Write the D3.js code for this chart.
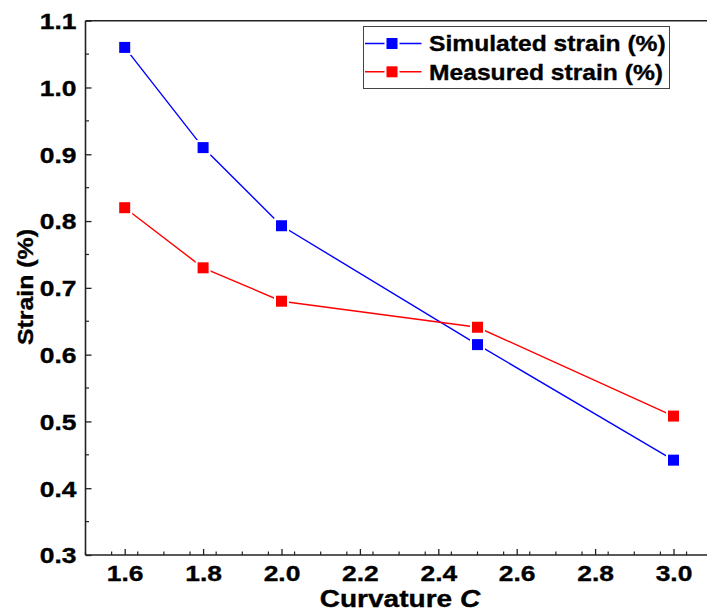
<!DOCTYPE html>
<html>
<head>
<meta charset="utf-8">
<script src="https://cdn.jsdelivr.net/npm/d3@7"></script>
<style>
  html, body { margin: 0; padding: 0; background: #fff; }
  svg { display: block; }
  text { font-family: "Liberation Sans", Arial, sans-serif; font-weight: bold; fill: #000; stroke: #000; stroke-width: 0.35px; }
</style>
</head>
<body>
<svg id="chart" width="707" height="614"></svg>
<script>
// Curvature values (x) and strain series (%)
const curvature = [1.6, 1.8, 2.0, 2.5, 3.0];
const simulated = [1.06, 0.91, 0.793, 0.615, 0.442];
const measured = [0.82, 0.73, 0.68, 0.641, 0.508];
const seriesNames = ["Simulated strain (%)", "Measured strain (%)"];
const seriesColors = ["#0000ff", "#ff0000"];
const xTicks = [1.6, 1.8, 2.0, 2.2, 2.4, 2.6, 2.8, 3.0];
const yTicks = [0.3, 0.4, 0.5, 0.6, 0.7, 0.8, 0.9, 1.0, 1.1];

const svg = d3.select("#chart");
const plotLeft = 85.5, plotTop = 20.7, plotBottom = 555;

const x = d3.scaleLinear().domain([1.5, 3.1]).range([plotLeft, plotLeft + 16 * 39.2]);
const y = d3.scaleLinear().domain([0.3, 1.1]).range([plotBottom, plotTop]);

const axisColor = "#222";
const wide = 1.2; // horizontal stretch for the wide bold lettering

// frame: top border (the right side runs past the viewport)
svg.append("line").attr("x1", plotLeft).attr("x2", 720).attr("y1", plotTop).attr("y2", plotTop)
  .attr("stroke", axisColor).attr("stroke-width", 1.6);

// x axis with inward ticks
const xMinor = d3.range(0, 25).map(i => 1.5 + i * 0.2 / 3).filter(v => !xTicks.some(t => Math.abs(t - v) < 1e-6));
const gx = svg.append("g").attr("transform", `translate(0,${plotBottom})`);
gx.call(d3.axisBottom(x).tickValues(xTicks).tickSize(-6).tickPadding(10).tickFormat(d3.format(".1f")));
gx.select(".domain").attr("d", `M${plotLeft},0H720`).attr("stroke", axisColor).attr("stroke-width", 1.6);
gx.selectAll(".tick line").attr("stroke", axisColor).attr("stroke-width", 1.3);
gx.selectAll(".tick text").attr("font-size", 22).attr("dy", "0.72em").attr("y", 10.5)
  .attr("transform", `scale(${wide},1)`)
  .style("font-family", "Liberation Sans, Arial, sans-serif").style("font-weight", "bold");
gx.selectAll(".minor").data(xMinor).enter().append("line")
  .attr("x1", d => x(d)).attr("x2", d => x(d)).attr("y1", 0).attr("y2", -3.5)
  .attr("stroke", axisColor).attr("stroke-width", 1.2);

// y axis with inward ticks
const yMinor = d3.range(0, 8).map(i => 0.35 + i * 0.1);
const gy = svg.append("g").attr("transform", `translate(${plotLeft},0)`);
gy.call(d3.axisLeft(y).tickValues(yTicks).tickSize(-6).tickPadding(8).tickFormat(d3.format(".1f")));
gy.select(".domain").attr("d", `M0,${plotTop}V${plotBottom}`).attr("stroke", axisColor).attr("stroke-width", 1.6);
gy.selectAll(".tick line").attr("stroke", axisColor).attr("stroke-width", 1.3);
gy.selectAll(".tick text").attr("font-size", 22).attr("dy", "0.36em")
  .attr("x", -9 / wide).attr("transform", `scale(${wide},1)`)
  .style("font-family", "Liberation Sans, Arial, sans-serif").style("font-weight", "bold");
gy.selectAll(".minor").data(yMinor).enter().append("line")
  .attr("x1", 0).attr("x2", 3.5).attr("y1", d => y(d)).attr("y2", d => y(d))
  .attr("stroke", axisColor).attr("stroke-width", 1.2);

// axis titles
const xt = svg.append("text").attr("transform", `translate(400,607) scale(1.22,1)`)
  .attr("text-anchor", "middle").attr("font-size", 23);
xt.append("tspan").text("Curvature ");
xt.append("tspan").attr("font-style", "italic").text("C");
svg.append("text").attr("transform", "translate(33,287) rotate(-90) scale(1.13,1)")
  .attr("text-anchor", "middle").attr("font-size", 22).text("Strain (%)");

// series lines and square markers
const series = [simulated, measured];
const line = d3.line().x((d, i) => x(curvature[i])).y(d => y(d));
const ms = 11;
series.forEach((vals, s) => {
  svg.append("path").datum(vals).attr("d", line).attr("fill", "none")
    .attr("stroke", seriesColors[s]).attr("stroke-width", 1.4);
});
series.forEach((vals, s) => {
  svg.selectAll(null).data(vals).enter().append("rect")
    .attr("x", (d, i) => x(curvature[i]) - ms / 2).attr("y", d => y(d) - ms / 2)
    .attr("width", ms).attr("height", ms)
    .attr("fill", seriesColors[s]).attr("stroke", "#fff").attr("stroke-width", 4)
    .attr("paint-order", "stroke");
});

// legend
const lg = svg.append("g");
lg.append("rect").attr("x", 363.5).attr("y", 26.5).attr("width", 306).attr("height", 62)
  .attr("fill", "#fff").attr("stroke", "#444").attr("stroke-width", 1);
seriesNames.forEach((name, s) => {
  const cy = 43.5 + s * 28.3;
  lg.append("line").attr("x1", 365).attr("x2", 421.5).attr("y1", cy).attr("y2", cy)
    .attr("stroke", seriesColors[s]).attr("stroke-width", 1.4);
  lg.append("rect").attr("x", 392 - ms / 2).attr("y", cy - ms / 2).attr("width", ms).attr("height", ms)
    .attr("fill", seriesColors[s]).attr("stroke", "#fff").attr("stroke-width", 4).attr("paint-order", "stroke");
  lg.append("text").attr("transform", `translate(429,${cy}) scale(1.12,1)`)
    .attr("dy", "0.36em").attr("font-size", 22).text(name);
});
</script>
</body>
</html>
